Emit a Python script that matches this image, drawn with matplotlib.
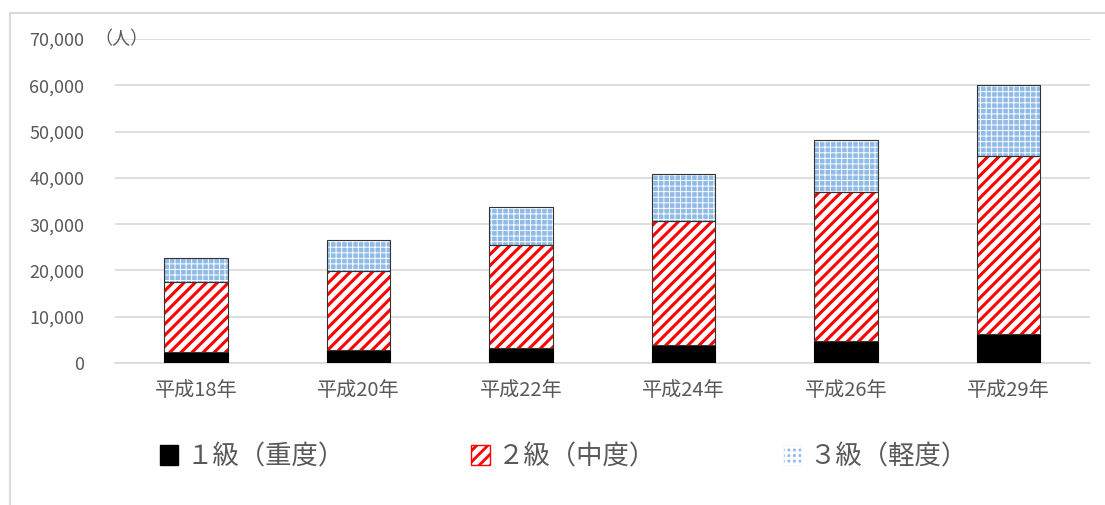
import numpy as np
import matplotlib.pyplot as plt
from matplotlib.patches import Patch, Rectangle

plt.rcParams['font.family'] = ['Noto Sans CJK JP', 'DejaVu Sans']
plt.rcParams['hatch.linewidth'] = 2.2

# data (persons)
years = ['平成18年', '平成20年', '平成22年', '平成24年', '平成26年', '平成29年']
grade1 = [2400, 2800, 3200, 3900, 4800, 6300]
grade2 = [15100, 17100, 22300, 26800, 32100, 38400]
grade3 = [5200, 6700, 8200, 10100, 11300, 15300]
labels = ['１級（重度）', '２級（中度）', '３級（軽度）']

gray = '#595959'
blue_face = '#8fbbe6'

fig = plt.figure(figsize=(11.05, 5.05), dpi=100)
ax = fig.add_axes([0.104, 0.281, 0.882, 0.642])

x = np.arange(len(years))
w = 0.39
g1 = np.array(grade1)
g2 = np.array(grade2)
g3 = np.array(grade3)

# grade 1: solid black
ax.bar(x, g1, w, color='black', edgecolor='black', linewidth=0.8, zorder=3)

# grade 2: red stripes on white
ax.bar(x, g2, w, bottom=g1, color='white', edgecolor='red', hatch='///',
       linewidth=0, zorder=3)
ax.bar(x, g2, w, bottom=g1, fill=False, edgecolor='#333333', linewidth=0.8, zorder=4)

# grade 3: light blue dotted
plt.rcParams['hatch.linewidth'] = 0.7
ax.bar(x, g3, w, bottom=g1 + g2, color=blue_face, edgecolor='white', hatch='+++',
       linewidth=0, zorder=3)
ax.bar(x, g3, w, bottom=g1 + g2, fill=False, edgecolor='#333333', linewidth=0.8, zorder=4)

ax.set_xlim(-0.5, len(years) - 0.5)
ax.set_ylim(0, 70000)
ax.set_yticks(np.arange(0, 70001, 10000))
ax.set_yticklabels([f'{v:,}' for v in range(0, 70001, 10000)])
ax.set_xticks(x)
ax.set_xticklabels(years)
ax.tick_params(axis='y', length=0, pad=22, labelsize=13, labelcolor=gray)
ax.tick_params(axis='x', length=0, pad=12, labelsize=14.5, labelcolor=gray)
ax.yaxis.grid(True, color='#d9d9d9', linewidth=1.2, zorder=0)
ax.set_axisbelow(True)
for s in ['left', 'right', 'top']:
    ax.spines[s].set_visible(False)
ax.spines['bottom'].set_color('#d9d9d9')
ax.spines['bottom'].set_linewidth(1.2)

ax.text(-0.46, 70000, '（人）', fontsize=13, color=gray, ha='center', va='center')

# legend
plt.rcParams['hatch.linewidth'] = 2.0
handles = [
    Patch(facecolor='black', edgecolor='black'),
    Patch(facecolor='white', edgecolor='red', hatch='///'),
    Patch(facecolor=blue_face, edgecolor='white', hatch='+++', linewidth=0.5),
]
fig.legend(handles, labels, loc='center', bbox_to_anchor=(0.51, 0.095), ncol=3,
           frameon=False, fontsize=19, labelcolor=gray, handlelength=0.7,
           handleheight=0.8, handletextpad=0.3, columnspacing=4.8)

# outer frame
fig.patches.append(Rectangle((0.009, -0.1), 1.2, 1.074, transform=fig.transFigure,
                             fill=False, edgecolor='#d9d9d9', linewidth=1.5))

fig.savefig('out.png', dpi=100)
